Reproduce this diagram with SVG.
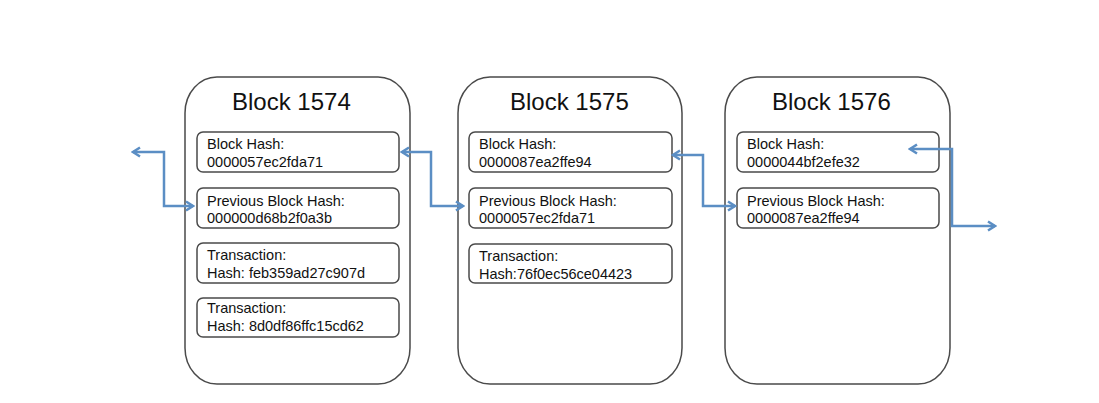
<svg xmlns="http://www.w3.org/2000/svg" width="1099" height="403" viewBox="0 0 1099 403">
<defs>
<style>
.outer{fill:#fff;stroke:#4a4a4a;stroke-width:1.5}
.inner{fill:#fff;stroke:#4a4a4a;stroke-width:1.5}
.title{font-family:"Liberation Sans",Arial,sans-serif;font-size:24px;fill:#111}
.t{font-family:"Liberation Sans",Arial,sans-serif;font-size:14.5px;fill:#111}
.link{fill:none;stroke:#5b8ec4;stroke-width:2.5}
</style>
<marker id="ah" viewBox="0 0 12 12" refX="10" refY="6" markerWidth="12" markerHeight="12" markerUnits="userSpaceOnUse" orient="auto-start-reverse">
<polyline points="3,1.5 10,6 3,10.5" fill="none" stroke="#5b8ec4" stroke-width="2.5"/>
</marker>
</defs>
<rect width="1099" height="403" fill="#fff"/>
<g id="block1574">
<rect class="outer" x="185" y="77" width="225" height="307" rx="32" ry="36"/>
<text class="title" x="232" y="110">Block 1574</text>
<rect class="inner" x="197" y="132" width="202" height="40" rx="6"/>
<text class="t" x="207" y="149">Block Hash:</text>
<text class="t" x="207" y="167">0000057ec2fda71</text>
<rect class="inner" x="197" y="188" width="202" height="40" rx="6"/>
<text class="t" x="207" y="206">Previous Block Hash:</text>
<text class="t" x="207" y="223">000000d68b2f0a3b</text>
<rect class="inner" x="197" y="243" width="202" height="40" rx="6"/>
<text class="t" x="207" y="260">Transaction:</text>
<text class="t" x="207" y="278">Hash: feb359ad27c907d</text>
<rect class="inner" x="197" y="298" width="202" height="39" rx="6"/>
<text class="t" x="207" y="313">Transaction:</text>
<text class="t" x="207" y="331">Hash: 8d0df86ffc15cd62</text>
</g>
<g id="block1575">
<rect class="outer" x="458" y="77" width="224" height="307" rx="32" ry="36"/>
<text class="title" x="510" y="110">Block 1575</text>
<rect class="inner" x="469" y="132" width="203" height="40" rx="6"/>
<text class="t" x="479" y="149">Block Hash:</text>
<text class="t" x="479" y="167">0000087ea2ffe94</text>
<rect class="inner" x="469" y="188" width="203" height="40" rx="6"/>
<text class="t" x="479" y="206">Previous Block Hash:</text>
<text class="t" x="479" y="223">0000057ec2fda71</text>
<rect class="inner" x="469" y="244" width="203" height="39" rx="6"/>
<text class="t" x="479" y="261">Transaction:</text>
<text class="t" x="479" y="279">Hash:76f0ec56ce04423</text>
</g>
<g id="block1576">
<rect class="outer" x="725" y="77" width="225" height="307" rx="32" ry="36"/>
<text class="title" x="772" y="110">Block 1576</text>
<rect class="inner" x="737" y="132" width="202" height="40" rx="6"/>
<text class="t" x="747" y="149">Block Hash:</text>
<text class="t" x="747" y="167">0000044bf2efe32</text>
<rect class="inner" x="737" y="188" width="202" height="40" rx="6"/>
<text class="t" x="747" y="206">Previous Block Hash:</text>
<text class="t" x="747" y="223">0000087ea2ffe94</text>
</g>
<g id="connectors">
<polyline class="link" points="133,152 164,152 164,206 193,206" marker-start="url(#ah)" marker-end="url(#ah)"/>
<polyline class="link" points="402,152 431,152 431,206 463,206" marker-start="url(#ah)" marker-end="url(#ah)"/>
<polyline class="link" points="673,155 703,155 703,206 735,206" marker-start="url(#ah)" marker-end="url(#ah)"/>
<polyline class="link" points="910,149 952,149 952,226 995,226" marker-start="url(#ah)" marker-end="url(#ah)"/>
</g>
</svg>
